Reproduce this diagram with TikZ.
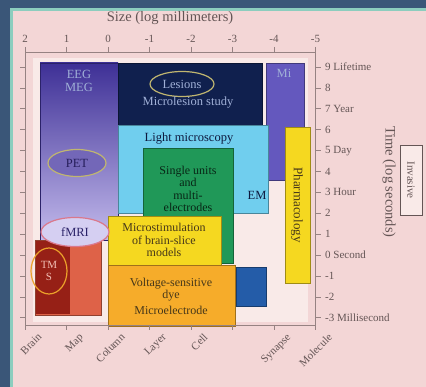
\documentclass[tikz,border=0pt]{standalone}
\usepackage{fontspec}
\setmainfont{Liberation Serif}
\usepackage{xcolor}
\usetikzlibrary{shapes.geometric}
\definecolor{slateBlue}{RGB}{58,86,120}
\definecolor{mintLine}{RGB}{140,205,190}
\definecolor{slidePink}{RGB}{243,214,214}
\definecolor{plotPink}{RGB}{249,234,232}
\definecolor{axisGray}{RGB}{150,130,130}
\definecolor{labelGray}{RGB}{100,85,85}
\definecolor{eegTop}{RGB}{62,48,150}
\definecolor{eegBottom}{RGB}{195,186,236}
\definecolor{lesionNavy}{RGB}{16,32,78}
\definecolor{microPurple}{RGB}{100,88,190}
\definecolor{lightCyan}{RGB}{112,206,238}
\definecolor{unitGreen}{RGB}{32,152,88}
\definecolor{pharmYellow}{RGB}{245,216,32}
\definecolor{vsdOrange}{RGB}{246,172,42}
\definecolor{squareBlue}{RGB}{36,92,168}
\definecolor{tmsRed}{RGB}{150,32,22}
\definecolor{tmsSalmon}{RGB}{222,98,72}
\definecolor{ringOlive}{RGB}{192,182,112}
\definecolor{ringPink}{RGB}{218,120,140}
\definecolor{ringOrange}{RGB}{236,162,42}
\definecolor{paleText}{RGB}{160,176,215}
\definecolor{darkText}{RGB}{70,55,25}

\begin{document}
\begin{tikzpicture}[x=1pt, y=-1pt, font=\fontsize{12.5}{13}\selectfont,
  tick/.style={axisGray, line width=0.6pt},
  ticklbl/.style={text=labelGray, font=\fontsize{11}{12}\selectfont},
  block/.style={fill=#1, draw=#1!65!black, line width=0.8pt},
  paletext/.style={text=paleText, align=center},
  darktext/.style={text=darkText, align=center, font=\fontsize{12}{12.5}\selectfont},
  ring/.style={ellipse, draw=#1, line width=1.2pt, inner sep=1pt}]
\useasboundingbox (0,0) rectangle (426,387);
% slide background and frame
\fill[slidePink] (0,0) rectangle (426,387);
\fill[slateBlue] (0,0) rectangle (10,387);
\fill[slateBlue] (0,0) rectangle (426,8);
\fill[mintLine] (10,8) rectangle (13,387);
\fill[mintLine] (10,8) rectangle (426,11);
\fill[plotPink] (33,58) rectangle (308,322);
% method regions
\shade[top color=eegTop, bottom color=eegBottom] (40,63) rectangle (118,240);
\draw[eegTop!70!black, line width=0.8pt] (40,63) rectangle (118,240);
\fill[block=lesionNavy] (118,63) rectangle (262,125);
\fill[block=microPurple] (266,63) rectangle (304,180);
\fill[block=lightCyan] (118,125) rectangle (268,213);
\fill[block=unitGreen] (143,148) rectangle (233,263);
\fill[block=pharmYellow] (108,216) rectangle (221,265);
\fill[block=vsdOrange] (108,265) rectangle (235,326);
\fill[block=squareBlue] (236,267) rectangle (266,306);
\fill[block=tmsSalmon] (35,240) rectangle (101,315);
\fill[tmsRed] (36,241) rectangle (70,314);
\fill[block=pharmYellow] (285,127) rectangle (310,283);
% axes frame and ticks
\draw[tick] (25,52) rectangle (315,325);
\foreach \i in {0,...,7}{
  \pgfmathsetmacro\xx{25+\i*41.5}
  \draw[tick] (\xx,47) -- (\xx,52);
  \draw[tick] (\xx,325) -- (\xx,330);
}
\foreach \i/\lbl in {0/2, 1/1, 2/0, 3/-1, 4/-2, 5/-3, 6/-4, 7/-5}{
  \pgfmathsetmacro\xx{25+\i*41.5}
  \node[ticklbl] (top\i) at (\xx,39) {\lbl};
}
\node[text=labelGray, font=\fontsize{14.5}{15}\selectfont] (sizeaxis) at (170,18) {Size (log millimeters)};
\foreach \i/\lbl in {0/Brain, 1/Map, 2/Column, 3/Layer, 4/Cell, 6/Synapse, 7/Molecule}{
  \pgfmathsetmacro\xx{25+\i*41.5+12}
  \node[ticklbl, rotate=45, anchor=north east, inner sep=1pt] (bot\i) at (\xx,331) {\lbl};
}
\foreach \t/\lbl in {9/{9 Lifetime}, 8/8, 7/{7 Year}, 6/6, 5/{5 Day}, 4/4, 3/{3 Hour},
                     2/2, 1/1, 0/{0 Second}, -1/-1, -2/-2, -3/{-3 Millisecond}}{
  \pgfmathsetmacro\yy{67+(9-\t)*20.9}
  \draw[tick] (20,\yy) -- (25,\yy);
  \draw[tick] (315,\yy) -- (321,\yy);
  \node[ticklbl, anchor=west, inner sep=1pt] (time\t) at (324,\yy) {\lbl};
}
\node[text=labelGray, rotate=-90, font=\fontsize{14.5}{15}\selectfont] (timeaxis) at (389,182) {Time (log seconds)};
\node[draw=labelGray, fill=plotPink, text=labelGray, rotate=-90, line width=0.8pt,
      font=\fontsize{11}{12}\selectfont, minimum width=70pt, minimum height=22pt,
      inner sep=2pt] (invasive) at (411,180) {Invasive};
% labels and rings
\node[paletext] (eeg) at (79,81) {EEG\\MEG};
\node[ring=ringOlive, minimum width=64pt, minimum height=25pt, text=paleText] (lesions) at (182,84) {Lesions};
\node[paletext] (microlesion) at (188,103) {Microlesion study};
\node[paletext] (mi) at (284,73) {Mi};
\node[text=lesionNavy!80!black] (lightmic) at (189,139) {Light microscopy};
\node[text=lesionNavy!80!black] (em) at (257,195) {EM};
\node[darktext, text=black!75!unitGreen] (units) at (188,189) {Single units\\and\\multi-\\electrodes};
\node[darktext] (pharm) at (164,240) {Microstimulation\\of brain-slice\\models};
\node[darktext] (vsd) at (171,296) {Voltage-sensitive\\dye\\[3pt]Microelectrode};
\node[darktext, rotate=-90, font=\fontsize{13}{14}\selectfont] (pharmbar) at (297,205) {Pharmacology};
\node[ring=ringOlive, minimum width=58pt, minimum height=27pt, fill=eegTop!60!eegBottom,
      text=eegTop!60!black] (pet) at (77,163) {PET};
\node[ring=ringPink, minimum width=68pt, minimum height=29pt, fill=eegBottom!70!white,
      text=eegTop!70!black] (fmri) at (75,232) {fMRI};
\node[ring=ringOrange, minimum width=36pt, minimum height=46pt, text=tmsSalmon!40!white,
      align=center, font=\fontsize{11}{12}\selectfont] (tms) at (49,271) {TM\\S};
\end{tikzpicture}
\end{document}
